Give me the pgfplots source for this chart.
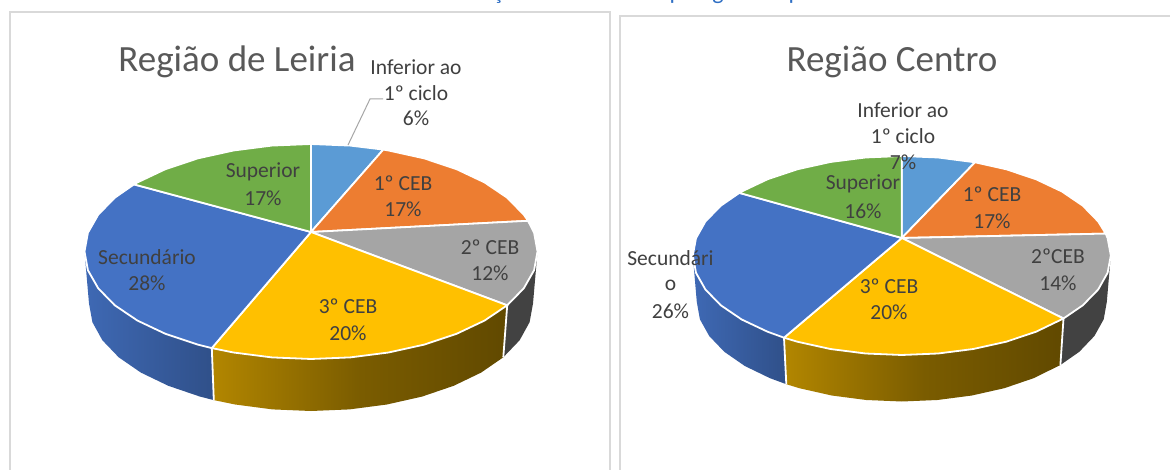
\documentclass[border=0pt]{standalone}
\usepackage{pgfplots}
\pgfplotsset{compat=1.18}
\usepackage{fontspec}
\setmainfont{Carlito}
\definecolor{cLB}{HTML}{5B9BD5}
\definecolor{cOr}{HTML}{ED7D31}
\definecolor{cGr}{HTML}{A5A5A5}
\definecolor{cYe}{HTML}{FFC000}
\definecolor{cBl}{HTML}{4472C4}
\definecolor{cGn}{HTML}{70AD47}
\definecolor{txt}{HTML}{404040}
\definecolor{ttl}{HTML}{595959}
\definecolor{hd}{HTML}{2F6FC4}
\tikzset{lab/.style={font=\fontsize{21.5}{21.5}\selectfont,text=txt,inner sep=0pt,anchor=center},
 tit/.style={font=\fontsize{37}{37}\selectfont,text=ttl,inner sep=0pt,anchor=center},
 frag/.style={overlay,font=\fontsize{24}{24}\selectfont,text=hd,inner sep=0pt,anchor=base}}
\pgfplotsset{slice/.style={draw=white,line width=1.8pt,line join=round,fill=#1,mark=none},
 seam/.style={draw=white,line width=1.8pt,mark=none}}
\begin{document}
\begin{tikzpicture}
\begin{axis}[width=1170pt,height=470pt,scale only axis,xmin=0,xmax=1170,ymin=0,ymax=470,y dir=reverse,hide axis,clip=true]
% page frame
\addplot[draw=none,fill=white,mark=none] coordinates {(0,0)(1170,0)(1170,470)(0,470)(0,0)};
% panels
\addplot[draw=black!15,line width=2pt,mark=none] coordinates {(10,470) (10,12) (610,12) (610,470)};
\addplot[draw=black!15,line width=2pt,mark=none] coordinates {(620,470) (620,16) (1170,16)};
% LEFT sides
\addplot[draw=none,fill=cGr!40!black,mark=none] coordinates {(537.5,251.5)(534.1,270.2)(523.8,288.3)(507.2,305.3)(503.3,357.3)(519.6,340.3)(529.6,322.2)(533,303.5)(537.5,251.5)};
\addplot[draw=none,left color=cBl!92!black,right color=cBl!70!black,mark=none] coordinates {(84.5,251.5)(87.9,270.2)(98.2,288.3)(114.8,305.3)(137.5,320.6)(165.4,333.8)(197.7,344.6)(211.8,348.1)(213.8,400.1)(200,396.6)(168.3,385.8)(140.9,372.6)(118.7,357.3)(102.4,340.3)(92.4,322.2)(89,303.5)(84.5,251.5)};
\addplot[draw=none,left color=cYe!70!black,right color=cYe!38!black,middle color=cYe!48!black,mark=none] coordinates {(211.8,348.1)(233.5,352.5)(271.7,357.4)(311,359)(350.3,357.4)(388.5,352.5)(424.3,344.6)(456.6,333.8)(484.5,320.6)(507.2,305.3)(503.3,357.3)(481.1,372.6)(453.7,385.8)(422,396.6)(386.9,404.5)(349.5,409.4)(311,411)(272.5,409.4)(235.1,404.5)(213.8,400.1)(211.8,348.1)};
\addplot[seam] coordinates {(211.8,348.1)(213.8,400.1)};
\addplot[seam] coordinates {(507.2,305.3)(503.3,357.3)};
% LEFT top
\addplot[slice=cLB] coordinates {(311,232)(311,144)(350.3,145.6)(383.3,149.6)(311,232)};
\addplot[slice=cOr] coordinates {(311,232)(383.3,149.6)(388.5,150.5)(424.3,158.4)(456.6,169.2)(484.5,182.4)(507.2,197.7)(523.8,214.7)(528,220.8)(311,232)};
\addplot[slice=cGr] coordinates {(311,232)(528,220.8)(534.1,232.8)(537.5,251.5)(534.1,270.2)(523.8,288.3)(507.2,305.3)(311,232)};
\addplot[slice=cYe] coordinates {(311,232)(507.2,305.3)(484.5,320.6)(456.6,333.8)(424.3,344.6)(388.5,352.5)(350.3,357.4)(311,359)(271.7,357.4)(233.5,352.5)(211.8,348.1)(311,232)};
\addplot[slice=cBl] coordinates {(311,232)(211.8,348.1)(197.7,344.6)(165.4,333.8)(137.5,320.6)(114.8,305.3)(98.2,288.3)(87.9,270.2)(84.5,251.5)(87.9,232.8)(98.2,214.7)(114.8,197.7)(134,184.4)(311,232)};
\addplot[slice=cGn] coordinates {(311,232)(134,184.4)(137.5,182.4)(165.4,169.2)(197.7,158.4)(233.5,150.5)(271.7,145.6)(311,144)(311,232)};
\addplot[draw=black!35,line width=1pt,mark=none] coordinates {(348,145)(370,99)(383,99)};
% RIGHT sides
\addplot[draw=none,fill=cGr!40!black,mark=none] coordinates {(1110.8,255.5)(1107.6,272.8)(1098.2,289.5)(1082.8,305.3)(1063.5,318.5)(1060.4,365)(1079.3,351.8)(1094.4,336)(1103.7,319.3)(1106.8,302)(1110.8,255.5)};
\addplot[draw=none,left color=cBl!92!black,right color=cBl!70!black,mark=none] coordinates {(692.8,255.5)(696,272.8)(705.4,289.5)(720.8,305.3)(741.7,319.5)(767.5,331.7)(784,337.7)(786.3,384.2)(770,378.2)(744.8,366)(724.3,351.8)(709.2,336)(699.9,319.3)(696.8,302)(692.8,255.5)};
\addplot[draw=none,left color=cYe!70!black,right color=cYe!38!black,middle color=cYe!48!black,mark=none] coordinates {(784,337.7)(797.3,341.7)(830.3,349)(865.5,353.5)(901.8,355)(938.1,353.5)(973.3,349)(1006.3,341.7)(1036.1,331.7)(1061.9,319.5)(1063.5,318.5)(1060.4,365)(1033.6,378.2)(1004.3,388.2)(971.9,395.5)(937.4,400)(901.8,401.5)(866.2,400)(831.7,395.5)(799.3,388.2)(786.3,384.2)(784,337.7)};
\addplot[seam] coordinates {(784,337.7)(786.3,384.2)};
\addplot[seam] coordinates {(1063.5,318.5)(1060.4,365)};
% RIGHT top
\addplot[slice=cLB] coordinates {(901.8,238)(901.8,156)(938.1,157.5)(975,162.3)(901.8,238)};
\addplot[slice=cOr] coordinates {(901.8,238)(975,162.3)(1006.3,169.3)(1036.1,179.3)(1061.9,191.5)(1082.8,205.7)(1098.2,221.5)(1105.7,233.6)(901.8,238)};
\addplot[slice=cGr] coordinates {(901.8,238)(1105.7,233.6)(1107.6,238.2)(1110.8,255.5)(1107.6,272.8)(1098.2,289.5)(1082.8,305.3)(1063.5,318.5)(901.8,238)};
\addplot[slice=cYe] coordinates {(901.8,238)(1063.5,318.5)(1036.1,331.7)(1006.3,341.7)(973.3,349)(938.1,353.5)(901.8,355)(865.5,353.5)(830.3,349)(797.3,341.7)(784,337.7)(901.8,238)};
\addplot[slice=cBl] coordinates {(901.8,238)(784,337.7)(767.5,331.7)(741.7,319.5)(720.8,305.3)(705.4,289.5)(696,272.8)(692.8,255.5)(696,238.2)(705.4,221.5)(720.8,205.7)(739.4,192.9)(901.8,238)};
\addplot[slice=cGn] coordinates {(901.8,238)(739.4,192.9)(741.7,191.5)(767.5,179.3)(797.3,169.3)(830.3,162)(865.5,157.5)(901.8,156)(901.8,238)};
% top heading fragments (cut off by the image edge)
\node[frag] at (axis cs:498,0) {ç};
\node[frag] at (axis cs:676,0) {p};
\node[frag] at (axis cs:718,0) {g};
\node[frag] at (axis cs:795,0) {p};
% LEFT text
\node[tit] at (axis cs:237,61.5) {Região de Leiria};
\node[lab] at (axis cs:416,67) {Inferior ao};
\node[lab] at (axis cs:416,93) {1º ciclo};
\node[lab] at (axis cs:416,118) {6\%};
\node[lab] at (axis cs:263,172) {Superior};
\node[lab] at (axis cs:263,198) {17\%};
\node[lab] at (axis cs:403,183) {1º CEB};
\node[lab] at (axis cs:403,209) {17\%};
\node[lab] at (axis cs:490,247) {2º CEB};
\node[lab] at (axis cs:490,273) {12\%};
\node[lab] at (axis cs:348,306) {3º CEB};
\node[lab] at (axis cs:348,333) {20\%};
\node[lab] at (axis cs:147,257) {Secundário};
\node[lab] at (axis cs:147,283) {28\%};
% RIGHT text
\node[tit] at (axis cs:892,61.5) {Região Centro};
\node[lab] at (axis cs:903,110) {Inferior ao};
\node[lab] at (axis cs:903,136) {1º ciclo};
\node[lab] at (axis cs:903,162) {7\%};
\node[lab] at (axis cs:863,184) {Superior};
\node[lab] at (axis cs:863,211) {16\%};
\node[lab] at (axis cs:992,194) {1º CEB};
\node[lab] at (axis cs:992,221) {17\%};
\node[lab] at (axis cs:1058,256) {2ºCEB};
\node[lab] at (axis cs:1058,283) {14\%};
\node[lab] at (axis cs:889,286) {3º CEB};
\node[lab] at (axis cs:889,312) {20\%};
\node[lab] at (axis cs:670.5,258) {Secundári};
\node[lab] at (axis cs:670.5,285) {o};
\node[lab] at (axis cs:670.5,311) {26\%};
\end{axis}
\end{tikzpicture}
\end{document}
